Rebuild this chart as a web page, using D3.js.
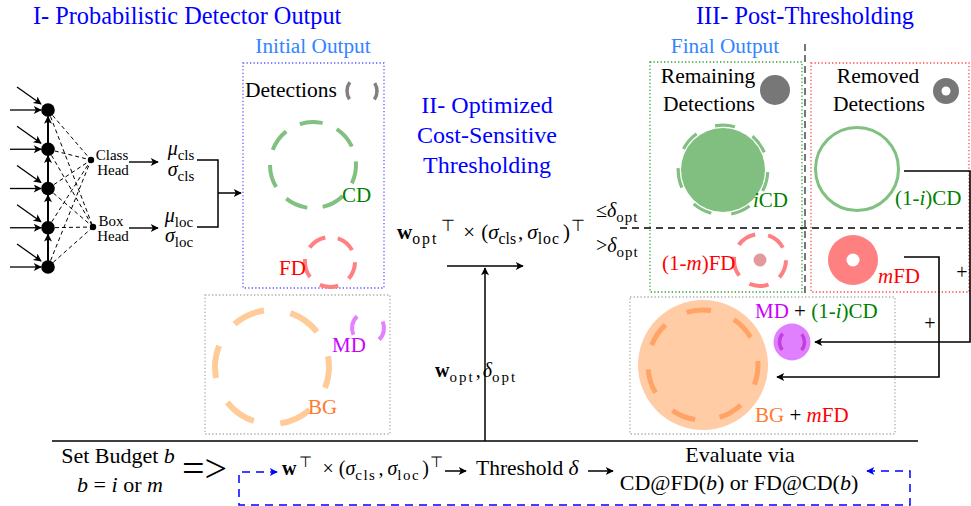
<!DOCTYPE html>
<html><head><meta charset="utf-8">
<script src="https://cdn.jsdelivr.net/npm/d3@7"></script>
<style>
body{margin:0;background:#fff}
svg{display:block;font-family:"Liberation Serif","Times New Roman",serif}
</style>
</head><body>
<svg id="c" width="971" height="506"></svg>
<script>
// ---------- content (data) ----------
const sectionTitles = ["I- Probabilistic Detector Output", "III- Post-Thresholding"];
const thresholdTitle = ["II- Optimized", "Cost-Sensitive", "Thresholding"];
const panelTitles = ["Initial Output", "Final Output"];
const networkNodes = ["n1", "n2", "n3", "n4", "n5"];
const headNames = [["Class", "Head"], ["Box", "Head"]];
const initialGroups = ["Detections", "CD", "FD", "MD", "BG"];
const finalGroups = ["Remaining Detections", "Removed Detections", "iCD", "(1-m)FD", "(1-i)CD", "mFD"];
const mergedGroups = ["MD + (1-i)CD", "BG + mFD"];
const budgetLines = ["Set Budget b", "b = i or m"];
const evalLines = ["Evaluate via", "CD@FD(b) or FD@CD(b)"];

const textColor = d3.scaleOrdinal()
  .domain(["CD", "FD", "BG", "MD", "title", "panel", "plain"])
  .range(["#008000", "#ff0000", "#ff7b2e", "#cc00ff", "#0000ff", "#3385ff", "#000000"]);
const lightColor = d3.scaleOrdinal()
  .domain(["CD", "FD", "BG", "MD", "Det"])
  .range(["#80c080", "#ff8080", "#ffcc99", "#e580ff", "#808080"]);

// ---------- setup ----------
const svg = d3.select("#c");
const defs = svg.append("defs");
function marker(id, color) {
  defs.append("marker").attr("id", id).attr("viewBox", "0 0 10 10")
    .attr("refX", 9).attr("refY", 5).attr("markerWidth", 10).attr("markerHeight", 8)
    .attr("markerUnits", "userSpaceOnUse").attr("orient", "auto-start-reverse")
    .append("path").attr("d", "M0,0 L10,5 L0,10 L2.5,5 z").attr("fill", color);
}
marker("arr", "#000");
marker("arrb", "#0000ff");

function rich(x, y, segs, opts = {}) {
  const fs = opts.size || 22;
  const t = svg.append("text").attr("x", x).attr("y", y).attr("font-size", fs)
    .attr("text-anchor", opts.anchor || "start").attr("fill", opts.fill || "#000");
  let shift = 0;
  segs.forEach(s => {
    if (typeof s === "string") s = { t: s };
    let target = 0, size = fs;
    if (s.sub) { target = fs * 0.26; size = fs * 0.75; }
    if (s.sup) { target = -fs * 0.4; size = fs * 0.75; }
    const ts = t.append("tspan").text(s.t).attr("font-size", size);
    if (target - shift !== 0) ts.attr("dy", target - shift);
    shift = target;
    if (s.i) ts.attr("font-style", "italic");
    if (s.b) ts.attr("font-weight", "bold");
    if (s.fill) ts.attr("fill", s.fill);
    if (s.dx) ts.attr("dx", s.dx);
    if (s.ls) ts.attr("letter-spacing", s.ls);
  });
  return t;
}
function line(d, opts = {}) {
  return svg.append("path").attr("d", d).attr("fill", "none")
    .attr("stroke", opts.stroke || "#000").attr("stroke-width", opts.w || 1.4)
    .attr("stroke-dasharray", opts.dash || null)
    .attr("marker-end", opts.end ? "url(#" + opts.end + ")" : null)
    .attr("marker-start", opts.start ? "url(#" + opts.start + ")" : null);
}
function rect(x0, y0, x1, y1, color) {
  svg.append("rect").attr("x", x0).attr("y", y0).attr("width", x1 - x0).attr("height", y1 - y0)
    .attr("fill", "none").attr("stroke", color).attr("stroke-width", 1.3).attr("stroke-dasharray", "1.3 2.2");
}
function dashedCircle(cx, cy, r, color, w, n, frac, rot) {
  const C = 2 * Math.PI * r, p = C / n, d = p * frac;
  svg.append("circle").attr("cx", 0).attr("cy", 0).attr("r", r)
    .attr("transform", `translate(${cx},${cy}) rotate(${rot})`)
    .attr("fill", "none").attr("stroke", color).attr("stroke-width", w)
    .attr("stroke-dasharray", `${d} ${p - d}`).attr("stroke-dashoffset", d / 2);
}
function disc(cx, cy, r, fill) {
  svg.append("circle").attr("cx", cx).attr("cy", cy).attr("r", r).attr("fill", fill);
}

// ---------- titles ----------
rich(33, 24, [sectionTitles[0]], { size: 24.3, fill: textColor("title") });
rich(696, 24, [sectionTitles[1]], { size: 24.3, fill: textColor("title") });
const yTitle = d3.scalePoint().domain(thresholdTitle).range([113, 173]);
thresholdTitle.forEach(t => rich(487, yTitle(t), [t], { size: 24, fill: textColor("title"), anchor: "middle" }));
rich(313, 53, [panelTitles[0]], { size: 21.3, fill: textColor("panel"), anchor: "middle" });
rich(725, 53, [panelTitles[1]], { size: 21.3, fill: textColor("panel"), anchor: "middle" });

// ---------- network ----------
const nx = 48;
const ny = d3.scalePoint().domain(networkNodes).range([110, 267]);
const heads = [{ x: 91, y: 160 }, { x: 93, y: 227 }];
networkNodes.forEach(n => {
  heads.forEach(h => line(`M${nx},${ny(n)} L${h.x},${h.y}`, { w: 1, dash: "4 3" }));
});
networkNodes.forEach((n, i) => {
  const y = ny(n);
  line(`M10,${y} H41`, { w: 1.3, end: "arr" });
  line(`M17,${y - 23} L41,${y - 6}`, { w: 1.3, end: "arr" });
  if (i > 0) line(`M${nx},${y - 6} V${ny(networkNodes[i - 1]) + 6.5}`, { w: 2, end: "arr" });
});
networkNodes.forEach(n => disc(nx, ny(n), 6.8, "#000"));
heads.forEach(h => disc(h.x, h.y, 3.2, "#000"));
rich(112, 160, [headNames[0][0]], { size: 15, anchor: "middle" });
rich(113, 175, [headNames[0][1]], { size: 15, anchor: "middle" });
rich(111, 226, [headNames[1][0]], { size: 15, anchor: "middle" });
rich(113, 241, [headNames[1][1]], { size: 15, anchor: "middle" });
line("M129,162 H158", { w: 1.4, end: "arr" });
line("M129,228 H158", { w: 1.4, end: "arr" });
rich(181, 155, [{ t: "μ", i: 1 }, { t: "cls", sub: 1 }], { size: 20, anchor: "middle" });
rich(181, 176, [{ t: "σ", i: 1 }, { t: "cls", sub: 1 }], { size: 20, anchor: "middle" });
rich(179, 222, [{ t: "μ", i: 1 }, { t: "loc", sub: 1 }], { size: 20, anchor: "middle" });
rich(179, 242, [{ t: "σ", i: 1 }, { t: "loc", sub: 1 }], { size: 20, anchor: "middle" });
line("M197,160 H218 V227 H197", { w: 1.5 });
line("M218,193 H241", { w: 1.5, end: "arr" });

// ---------- initial output ----------
rect(243, 63, 384, 288, "#5a5aff");
rect(205, 295, 390, 434, "#aaaaaa");
rich(245, 97, [initialGroups[0]], { size: 21.5 });
dashedCircle(362, 91, 15, lightColor("Det"), 3.5, 2, 0.38, 0);
dashedCircle(313, 165, 43, lightColor("CD"), 4, 7, 0.6, 10);
rich(342, 202, [initialGroups[1]], { size: 21, fill: textColor("CD") });
dashedCircle(330, 262, 25, lightColor("FD"), 4, 5, 0.6, 20);
rich(279, 275, [initialGroups[2]], { size: 21, fill: textColor("FD") });
dashedCircle(368, 328, 16, lightColor("MD"), 4, 2, 0.4, 10);
rich(332, 352, [initialGroups[3]], { size: 21, fill: textColor("MD") });
dashedCircle(272, 367, 57, lightColor("BG"), 6, 6, 0.55, 5);
rich(308, 414, [initialGroups[4]], { size: 21, fill: textColor("BG") });

// ---------- thresholding ----------
const wOpt = [{ t: "w", b: 1 }, { t: "opt", sub: 1, ls: 2 }, { t: "⊤", sup: 1, dx: 3 }, { t: "×", dx: 8 }, { t: "(", dx: 6 },
  { t: "σ", i: 1 }, { t: "cls", sub: 1 }, { t: ",", dx: 2 }, { t: "σ", i: 1, dx: 4 }, { t: "loc", sub: 1, ls: 1 }, { t: ")", dx: 3 }, { t: "⊤", sup: 1, dx: 1 }];
rich(397, 239, wOpt, { size: 21 });
rich(596, 217, [{ t: "≤" }, { t: "δ", i: 1 }, { t: "opt", sub: 1, ls: 1 }], { size: 20 });
rich(596, 252, [{ t: ">" }, { t: "δ", i: 1 }, { t: "opt", sub: 1, ls: 1 }], { size: 20 });
line("M447,266 H523", { w: 1.4, end: "arr" });
line("M485,441 V268", { w: 1.5, end: "arr" });
rich(435, 377, [{ t: "w", b: 1 }, { t: "opt", sub: 1, ls: 2 }, { t: ",", dx: 1 }, { t: "δ", i: 1, dx: 2 }, { t: "opt", sub: 1, ls: 2 }], { size: 20 });

// ---------- post-thresholding ----------
rect(650, 62, 802, 292, "#2e9e2e");
rect(811, 63, 969, 292, "#ff4444");
rect(630, 297, 895, 434, "#aaaaaa");
line("M805,44 V294", { w: 1.6, dash: "7 4", stroke: "#555" });
line("M620,228 H968", { w: 1.5, dash: "7 5" });

rich(708, 83, ["Remaining"], { size: 21.5, anchor: "middle" });
rich(709, 111, ["Detections"], { size: 21.5, anchor: "middle" });
disc(775, 90, 15, "#777777");
rich(878, 83, ["Removed"], { size: 21.5, anchor: "middle" });
rich(879, 111, ["Detections"], { size: 21.5, anchor: "middle" });
disc(946, 91, 13, "#777777"); disc(946, 91, 4.5, "#fff");

disc(723, 170, 42, "#80bf80");
dashedCircle(723, 170, 44.8, lightColor("CD"), 3.2, 7, 0.5, 15);
rich(753, 207, [{ t: "i", i: 1 }, { t: "CD" }], { size: 21, fill: textColor("CD") });
dashedCircle(760, 260, 26, lightColor("FD"), 4, 5, 0.6, 20);
disc(760, 260, 6.5, "#e39a9a");
rich(662, 270, ["(1-", { t: "m", i: 1 }, ")FD"], { size: 21, fill: textColor("FD") });

svg.append("circle").attr("cx", 857).attr("cy", 169).attr("r", 41.5).attr("fill", "none")
  .attr("stroke", lightColor("CD")).attr("stroke-width", 3);
rich(895, 205, ["(1-", { t: "i", i: 1 }, ")CD"], { size: 21, fill: textColor("CD") });
disc(853, 260, 25, lightColor("FD")); disc(853, 260, 6.5, "#fff");
rich(878, 283, [{ t: "m", i: 1 }, "FD"], { size: 21, fill: textColor("FD") });

line("M904,171 H970 V342 H815", { w: 1.6, end: "arr" });
line("M904,257 H939 V377 H777", { w: 1.6, end: "arr" });
rich(962, 279, ["+"], { size: 20, anchor: "middle" });
rich(930, 330, ["+"], { size: 20, anchor: "middle" });

disc(703, 365, 65, "#ffcca6");
dashedCircle(703, 365, 55, "#ffa466", 5, 7, 0.5, 8);
disc(792, 342, 18.5, "#e180ff");
dashedCircle(792, 342, 12.5, "#c040dd", 3.5, 2, 0.45, 0);
rich(755, 318, [{ t: "MD", fill: textColor("MD") }, " + ", { t: "(1-", fill: textColor("CD") }, { t: "i", i: 1, fill: textColor("CD") }, { t: ")CD", fill: textColor("CD") }], { size: 21 });
rich(755, 422, [{ t: "BG", fill: textColor("BG") }, " + ", { t: "m", i: 1, fill: textColor("FD") }, { t: "FD", fill: textColor("FD") }], { size: 21 });

// ---------- bottom: budget loop ----------
line("M52,441 H918", { w: 1.5 });
rich(118, 463, ["Set Budget ", { t: "b", i: 1 }], { size: 22, anchor: "middle" });
rich(120, 492, [{ t: "b", i: 1 }, " = ", { t: "i", i: 1 }, " or ", { t: "m", i: 1 }], { size: 22, anchor: "middle" });
rich(182, 482, ["=>"], { size: 40 });
line("M867,471 H910 V505 H239 V472 H277", { w: 1.5, stroke: "#0000ff", dash: "8 6", start: "arrb", end: "arrb" });
rich(282, 475, [{ t: "w", b: 1 }, { t: "⊤", sup: 1, dx: 3 }, { t: "×", dx: 10 }, { t: "(", dx: 5 }, { t: "σ", i: 1 }, { t: "cls", sub: 1, ls: 1.5 },
  { t: ",", dx: 2 }, { t: "σ", i: 1, dx: 4 }, { t: "loc", sub: 1, ls: 1.5 }, { t: ")", dx: 2 }, { t: "⊤", sup: 1, dx: 1 }], { size: 20 });
line("M445,471 H466", { w: 1.5, end: "arr" });
rich(476, 475, ["Threshold ", { t: "δ", i: 1 }], { size: 21.5 });
line("M588,471 H613", { w: 1.5, end: "arr" });
rich(740, 462, [evalLines[0]], { size: 22, anchor: "middle" });
rich(739, 490, ["CD@FD(", { t: "b", i: 1 }, ") or FD@CD(", { t: "b", i: 1 }, ")"], { size: 22, anchor: "middle" });
</script>
</body></html>
